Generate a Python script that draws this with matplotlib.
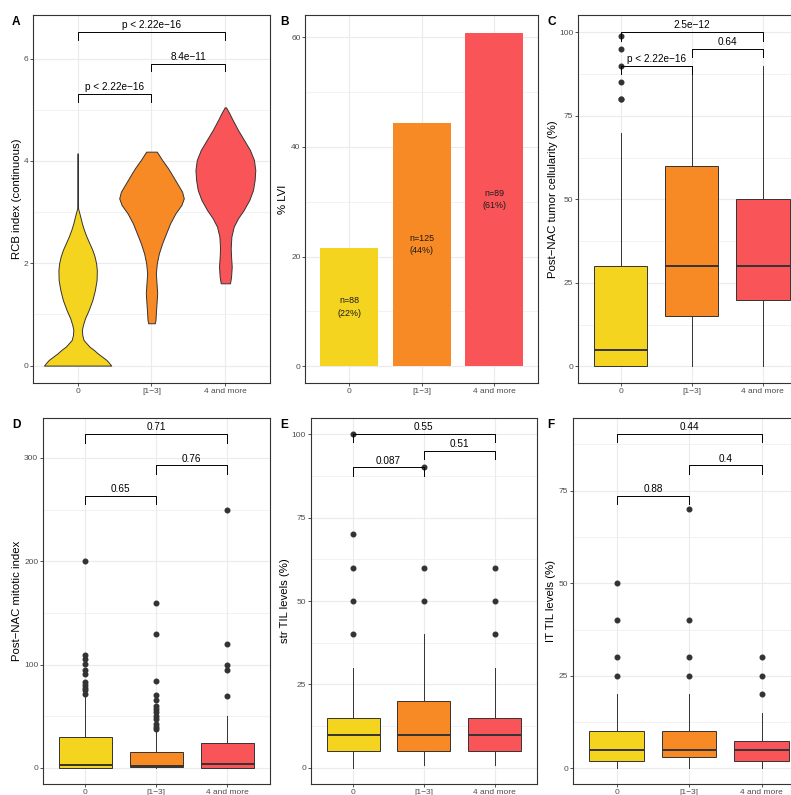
import matplotlib
matplotlib.use('Agg')
import matplotlib.pyplot as plt
from matplotlib.ticker import MultipleLocator

plt.rcParams['font.family'] = ['Liberation Sans', 'DejaVu Sans']

groups = ['0', '[1\u22123]', '4 and more']
colors = ['#F4D41E', '#F78A24', '#F95558']

# A - RCB index violins: (y, half width) profiles
vio_y_0 = [0.0, 0.046, 0.111, 0.176, 0.241, 0.306, 0.371, 0.436, 0.501, 0.599, 0.697, 0.794,
           0.924, 1.087, 1.283, 1.478, 1.673, 1.868, 1.999, 2.129, 2.259, 2.389, 2.520,
           2.650, 2.780, 2.910, 3.008, 3.073, 3.236, 4.147]
vio_w_0 = [0.455, 0.43, 0.39, 0.33, 0.27, 0.22, 0.16, 0.12, 0.08, 0.063, 0.058, 0.072,
           0.10, 0.15, 0.20, 0.234, 0.257, 0.26, 0.25, 0.23, 0.20, 0.16, 0.12,
           0.086, 0.058, 0.036, 0.018, 0.006, 0.003, 0.002]
vio_y_1 = [0.827, 0.892, 1.022, 1.217, 1.413, 1.608, 1.803, 1.999, 2.194, 2.389, 2.585,
           2.78, 2.975, 3.138, 3.268, 3.398, 3.529, 3.691, 3.854, 4.017, 4.18]
vio_w_1 = [0.045, 0.054, 0.059, 0.068, 0.077, 0.068, 0.059, 0.072, 0.10, 0.144, 0.198,
           0.252, 0.324, 0.405, 0.437, 0.414, 0.36, 0.293, 0.225, 0.144, 0.072]
vio_y_2 = [1.608, 1.738, 1.934, 2.129, 2.292, 2.52, 2.715, 2.878, 3.04, 3.236, 3.431,
           3.626, 3.822, 4.017, 4.212, 4.408, 4.603, 4.798, 4.928, 5.046]
vio_w_2 = [0.063, 0.077, 0.086, 0.077, 0.072, 0.081, 0.113, 0.171, 0.248, 0.324, 0.374,
           0.396, 0.405, 0.387, 0.333, 0.252, 0.171, 0.099, 0.054, 0.009]
rcb_pvals = [(1, 3, 6.52, 'p < 2.22e\u221216'), (2, 3, 5.9, '8.4e\u221211'),
             (1, 2, 5.3, 'p < 2.22e\u221216')]

# B - % LVI
lvi_pct = [21.6, 44.4, 60.8]
lvi_n = [88, 125, 89]

# C - post-NAC tumor cellularity
cell_q1 = [0, 15, 20]
cell_med = [5, 30, 30]
cell_q3 = [30, 60, 50]
cell_lo = [0, 0, 0]
cell_hi = [70, 90, 90]
cell_out = [[80, 80, 85, 90, 95, 99], [], []]
cell_pvals = [(1, 3, 100, '2.5e\u221212'), (2, 3, 95, '0.64'), (1, 2, 90, 'p < 2.22e\u221216')]

# D - post-NAC mitotic index
mit_q1 = [0, 1, 0]
mit_med = [2.5, 2.2, 4]
mit_q3 = [29.6, 15, 24]
mit_lo = [0, 0, 0]
mit_hi = [70, 36, 50]
mit_out = [[200, 109, 105, 101, 95, 91, 83, 80, 77, 75, 72],
           [160, 130, 84, 71, 66, 60, 57, 54, 50, 47, 43, 40, 38],
           [250, 120, 100, 95, 70]]
mit_pvals = [(1, 3, 322.8, '0.71'), (2, 3, 292.6, '0.76'), (1, 2, 262.9, '0.65')]

# E - stromal TIL levels
str_q1 = [5, 5, 5]
str_med = [10, 10, 10]
str_q3 = [15, 20, 15]
str_lo = [0, 1, 1]
str_hi = [30, 40, 30]
str_out = [[40, 50, 60, 70, 100], [50, 60, 90], [40, 50, 60]]
str_pvals = [(1, 3, 100, '0.55'), (2, 3, 95, '0.51'), (1, 2, 90, '0.087')]

# F - intratumoral TIL levels
it_q1 = [2, 3, 2]
it_med = [5, 5, 5]
it_q3 = [10, 10, 7.5]
it_lo = [0, 0, 0]
it_hi = [20, 20, 15]
it_out = [[25, 30, 40, 50], [25, 30, 40, 70], [20, 25, 30]]
it_pvals = [(1, 3, 90.3, '0.44'), (2, 3, 81.8, '0.4'), (1, 2, 73.5, '0.88')]

W, H = 791, 795
fig = plt.figure(figsize=(W / 100, H / 100), dpi=100)
fig.patch.set_facecolor('white')

DARK = '#333333'
GRID = '#EBEBEB'


def make_axes(box, ylim, major, minor, ylabel, label_x, letter, letter_xy):
    x0, y0, x1, y1 = box
    ax = fig.add_axes([x0 / W, 1 - y1 / H, (x1 - x0) / W, (y1 - y0) / H])
    ax.set_xlim(0.4, 3.6)
    ax.set_ylim(*ylim)
    ax.set_xticks([1, 2, 3])
    ax.set_xticklabels(groups)
    ax.yaxis.set_major_locator(MultipleLocator(major))
    ax.yaxis.set_minor_locator(MultipleLocator(minor))
    ax.grid(True, which='major', color=GRID, lw=0.8)
    ax.grid(True, which='minor', axis='y', color=GRID, lw=0.45)
    ax.set_axisbelow(True)
    for s in ax.spines.values():
        s.set_color(DARK)
        s.set_linewidth(0.8)
    ax.tick_params(which='major', length=2.2, width=0.6, color=DARK, pad=1.2,
                   labelsize=6, labelcolor='#4D4D4D')
    ax.tick_params(which='minor', length=0)
    ax.set_ylabel(ylabel, fontsize=8.2, color='black')
    ax.yaxis.label.set_verticalalignment('center')
    ax.yaxis.set_label_coords(label_x / W, 1 - (y0 + y1) / 2 / H, transform=fig.transFigure)
    fig.text(letter_xy[0] / W, 1 - letter_xy[1] / H, letter, fontsize=8.6,
             fontweight='bold', ha='left', va='top')
    return ax


def brackets(ax, pvals, tip):
    for x1, x2, y, lab in pvals:
        ax.plot([x1, x1, x2, x2], [y - tip, y, y, y - tip], color='black', lw=0.7, zorder=4)
        ax.annotate(lab, xy=((x1 + x2) / 2, y), xytext=(0, 2.8), textcoords='offset points',
                    ha='center', va='baseline', fontsize=7.2, color='black', zorder=5)


def boxes(ax, q1, med, q3, lo, hi, out):
    stats = []
    for i in range(3):
        stats.append(dict(q1=q1[i], med=med[i], q3=q3[i], whislo=lo[i], whishi=hi[i],
                          fliers=out[i]))
    bp = ax.bxp(stats, positions=[1, 2, 3], widths=0.75, patch_artist=True, showcaps=False,
                boxprops=dict(edgecolor=DARK, linewidth=0.7),
                medianprops=dict(color=DARK, linewidth=1.4),
                whiskerprops=dict(color=DARK, linewidth=0.7),
                flierprops=dict(marker='o', markerfacecolor=DARK, markeredgecolor=DARK,
                                markersize=3.3, linestyle='none'),
                manage_ticks=False)
    for patch, c in zip(bp['boxes'], colors):
        patch.set_facecolor(c)
    return bp


# ---- A
axA = make_axes((33.3, 15, 269.7, 383), (-0.34, 6.85), 2, 1,
                'RCB index (continuous)', 17, 'A', (12, 16))
for i, (vy, vw) in enumerate([(vio_y_0, vio_w_0), (vio_y_1, vio_w_1), (vio_y_2, vio_w_2)]):
    xs_l = [i + 1 - w for w in vw]
    xs_r = [i + 1 + w for w in vw]
    axA.fill_betweenx(vy, xs_l, xs_r, facecolor=colors[i], edgecolor=DARK, lw=0.7, zorder=3)
brackets(axA, rcb_pvals, 0.15)

# ---- B
axB = make_axes((305.4, 15, 538, 383), (-3.05, 64.05), 20, 10,
                '% LVI', 283.5, 'B', (280.5, 16))
axB.bar([1, 2, 3], lvi_pct, width=0.8, color=colors, zorder=3)
for i in range(3):
    axB.text(i + 1, lvi_pct[i] / 2, 'n=%d\n(%d%%)' % (lvi_n[i], round(lvi_pct[i])),
             ha='center', va='center', fontsize=6.4, color='#1A1A1A', linespacing=1.45,
             zorder=4)

# ---- C
axC = make_axes((578, 15, 805.5, 383), (-5, 105.2), 25, 12.5,
                'Post\u2212NAC tumor cellularity (%)', 553, 'C', (547, 16))
brackets(axC, cell_pvals, 2.5)
boxes(axC, cell_q1, cell_med, cell_q3, cell_lo, cell_hi, cell_out)

# ---- D
axD = make_axes((43, 418, 269.6, 784), (-15.5, 338.5), 100, 50,
                'Post\u2212NAC mitotic index', 17, 'D', (12, 419))
brackets(axD, mit_pvals, 8)
boxes(axD, mit_q1, mit_med, mit_q3, mit_lo, mit_hi, mit_out)

# ---- E
axE = make_axes((310.7, 418, 537, 784), (-4.8, 104.8), 25, 12.5,
                'str TIL levels (%)', 285, 'E', (280, 419))
brackets(axE, str_pvals, 2.5)
boxes(axE, str_q1, str_med, str_q3, str_lo, str_hi, str_out)

# ---- F
axF = make_axes((573, 418, 805.2, 784), (-4.2, 94.6), 25, 12.5,
                'IT TIL levels (%)', 551, 'F', (547, 419))
brackets(axF, it_pvals, 2.2)
boxes(axF, it_q1, it_med, it_q3, it_lo, it_hi, it_out)

fig.savefig('out.png', dpi=100)
